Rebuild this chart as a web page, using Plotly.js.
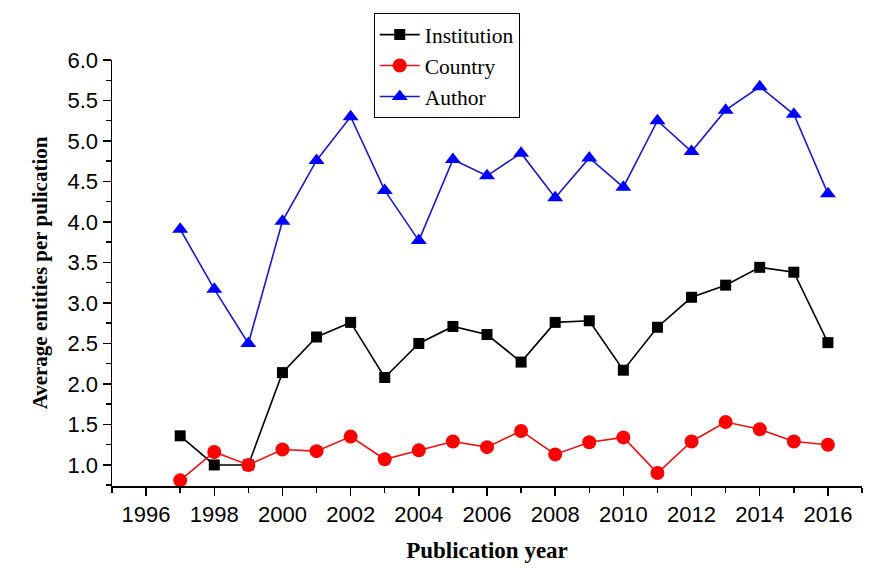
<!DOCTYPE html>
<html><head><meta charset="utf-8">
<script src="https://cdn.plot.ly/plotly-3.0.1.min.js"></script>
<style>html,body{margin:0;padding:0;background:#fff}#chart{width:870px;height:569px}</style>
</head><body><div id="chart"></div>
<script>
const years = [1997,1998,1999,2000,2001,2002,2003,2004,2005,2006,2007,2008,2009,2010,2011,2012,2013,2014,2015,2016];
const institution = [1.36,1.00,1.00,2.14,2.58,2.76,2.08,2.50,2.71,2.61,2.27,2.76,2.78,2.17,2.70,3.07,3.22,3.44,3.38,2.51];
const country = [0.81,1.16,1.00,1.19,1.17,1.35,1.07,1.18,1.29,1.22,1.42,1.13,1.28,1.34,0.90,1.29,1.53,1.44,1.29,1.25];
const author = [3.91,3.17,2.50,4.01,4.76,5.30,4.39,3.77,4.77,4.57,4.85,4.30,4.79,4.43,5.25,4.87,5.38,5.67,5.33,4.35];
const xTicks = [1996,1998,2000,2002,2004,2006,2008,2010,2012,2014,2016];
const yTicks = [1.0,1.5,2.0,2.5,3.0,3.5,4.0,4.5,5.0,5.5,6.0];

const traces = [
  {x: years, y: institution, name: 'Institution', mode: 'lines+markers',
   line: {color: '#000000', width: 1.6}, marker: {symbol: 'square', size: 11, color: '#000000'}},
  {x: years, y: country, name: 'Country', mode: 'lines+markers',
   line: {color: '#ee1111', width: 1.6}, marker: {symbol: 'circle', size: 14, color: '#ff0000'}},
  {x: years, y: author, name: 'Author', mode: 'lines+markers',
   line: {color: '#1a1acc', width: 1.6}, marker: {symbol: 'triangle-up', size: 14, color: '#0000ff'}}
];

const layout = {
  width: 870, height: 569,
  margin: {l: 112, r: 8, t: 60, b: 83},
  paper_bgcolor: '#ffffff', plot_bgcolor: '#ffffff',
  showlegend: true,
  legend: {x: 0.349, y: 1.11, xanchor: 'left', yanchor: 'top',
    bordercolor: '#000', borderwidth: 1, bgcolor: '#fff',
    font: {family: 'Liberation Serif, Times New Roman, serif', size: 21.5, color: '#000'},
    itemwidth: 40, tracegroupgap: 0},
  xaxis: {range: [1995, 2017], tickvals: xTicks, ticktext: xTicks.map(String),
    showgrid: false, zeroline: false, showline: true, linecolor: '#000', linewidth: 1.5,
    ticks: 'outside', ticklen: 8, tickwidth: 1.5, tickcolor: '#000',
    minor: {dtick: 1, tick0: 1995, ticks: 'outside', ticklen: 5, tickwidth: 1.5, tickcolor: '#000', showgrid: false},
    tickfont: {family: 'Liberation Sans, Arial, sans-serif', size: 22, color: '#000'},
    title: {text: '<b>Publication year</b>', standoff: 16,
      font: {family: 'Liberation Serif, Times New Roman, serif', size: 23, color: '#000'}}},
  yaxis: {range: [0.74, 6.0], tickvals: yTicks, ticktext: yTicks.map(v => v.toFixed(1)),
    showgrid: false, zeroline: false, showline: true, linecolor: '#000', linewidth: 1.5,
    ticks: 'outside', ticklen: 8, tickwidth: 1.5, tickcolor: '#000',
    minor: {dtick: 0.25, tick0: 0.75, ticks: 'outside', ticklen: 5, tickwidth: 1.5, tickcolor: '#000', showgrid: false},
    tickfont: {family: 'Liberation Sans, Arial, sans-serif', size: 22, color: '#000'},
    title: {text: '<b>Average entities per pulication</b>', standoff: 14,
      font: {family: 'Liberation Serif, Times New Roman, serif', size: 21, color: '#000'}}}
};

Plotly.newPlot('chart', traces, layout, {displayModeBar: false, staticPlot: true});
</script>
</body></html>
